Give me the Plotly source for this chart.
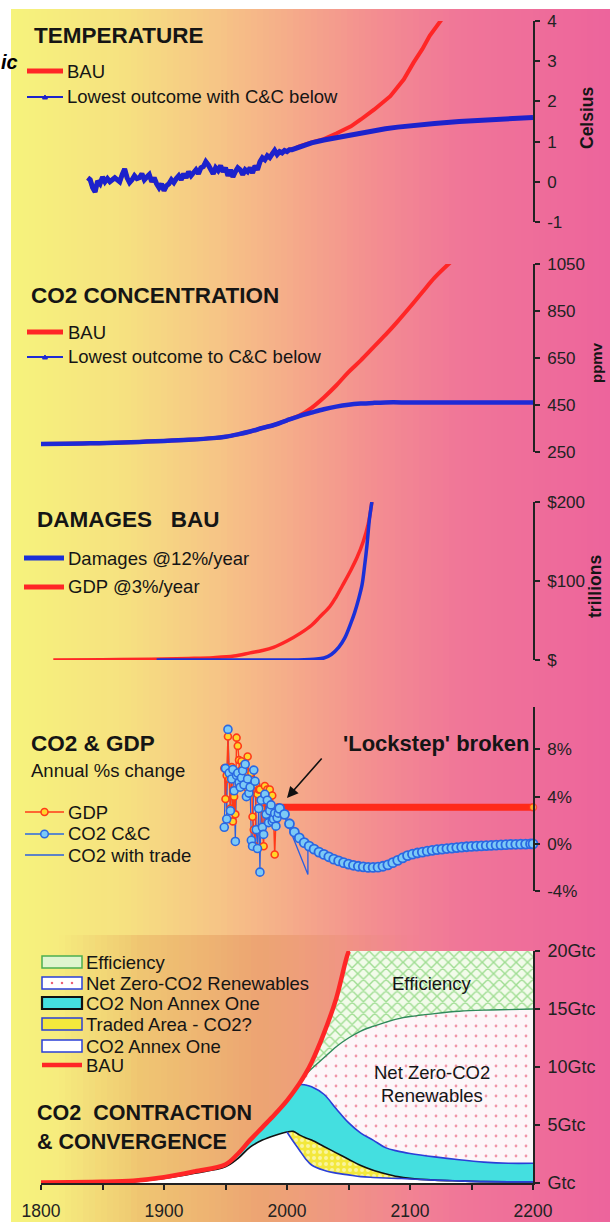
import plotly.graph_objects as go

W, H = 610, 1222
FONT = "Liberation Sans"

# ---------------- data ----------------
# Panel 1: temperature (Celsius)
temp_hist_years = [1838, 1840, 1842, 1844, 1846, 1848, 1850, 1852, 1854, 1856, 1858, 1860, 1862, 1864, 1866, 1868,
                   1870, 1872, 1874, 1876, 1878, 1880, 1882, 1884, 1886, 1888, 1890, 1892, 1894, 1896, 1898, 1900,
                   1902, 1904, 1906, 1908, 1910, 1912, 1914, 1916, 1918, 1920, 1922, 1924, 1926, 1928, 1930, 1932,
                   1934, 1936, 1938, 1940, 1942, 1944, 1946, 1948, 1950, 1952, 1954, 1956, 1958, 1960, 1962, 1964,
                   1966, 1968, 1970, 1972, 1974, 1976, 1978, 1980, 1982, 1984, 1986, 1988, 1990, 1992, 1994, 1996,
                   1998, 2000, 2002, 2004, 2006, 2008]
temp_hist = [0.10, 0.05, -0.15, -0.25, 0.02, -0.05, 0.12, 0.00, 0.08, 0.00, 0.05, 0.10, 0.05, 0.00, 0.18, 0.32,
             0.10, -0.02, 0.05, 0.15, 0.08, 0.10, 0.20, 0.05, 0.12, 0.18, 0.00, 0.10, -0.05, -0.15, -0.05, -0.22,
             -0.10, -0.05, 0.05, -0.02, 0.08, 0.15, 0.05, 0.20, 0.10, 0.25, 0.15, 0.22, 0.30, 0.20, 0.35, 0.38,
             0.50, 0.42, 0.30, 0.20, 0.35, 0.28, 0.40, 0.25, 0.35, 0.15, 0.30, 0.12, 0.25, 0.35, 0.30, 0.18,
             0.30, 0.25, 0.35, 0.22, 0.40, 0.30, 0.50, 0.60, 0.55, 0.65, 0.60, 0.72, 0.78, 0.68, 0.75, 0.72,
             0.78, 0.75, 0.80, 0.80, 0.82, 0.85]
temp_cc_years = [2012, 2020, 2030, 2040, 2050, 2060, 2070, 2080, 2090, 2100, 2120, 2140, 2160, 2180, 2200]
temp_cc = [0.90, 0.97, 1.04, 1.10, 1.16, 1.22, 1.27, 1.32, 1.36, 1.40, 1.45, 1.50, 1.54, 1.57, 1.60]
temp_bau_years = [2010, 2020, 2030, 2040, 2052, 2060, 2071, 2084, 2095, 2103, 2110, 2116, 2126]
temp_bau = [0.88, 0.98, 1.06, 1.20, 1.38, 1.55, 1.80, 2.13, 2.55, 2.97, 3.30, 3.63, 4.05]

# Panel 2: CO2 concentration (ppmv)
co2_years = [1800, 1820, 1840, 1860, 1880, 1900, 1920, 1940, 1950, 1960, 1970, 1980, 1990, 2000, 2010, 2020,
             2030, 2040, 2050, 2060, 2070, 2080, 2100, 2120, 2140, 2160, 2180, 2200]
co2_cc = [284, 285, 287, 289, 293, 297, 302, 309, 315, 325, 337, 352, 366, 385, 403, 418,
          432, 443, 451, 456, 459, 461, 461, 461, 461, 461, 461, 461]
co2_bau_years = [2010, 2020, 2030, 2040, 2050, 2060, 2070, 2080, 2090, 2100, 2110, 2120, 2133]
co2_bau = [405, 438, 482, 533, 590, 640, 694, 748, 806, 867, 930, 992, 1058]

# Panel 3: damages BAU (trillions $)
gdp_val_years = [1810, 1850, 1890, 1920, 1940, 1957, 1970, 1980, 1989, 2000, 2011, 2020, 2027, 2035, 2040, 2045,
                 2052, 2057, 2062, 2066, 2069]
gdp_val = [0, 0.3, 1, 2, 3, 5, 9, 12, 16, 24, 34, 44, 55, 68, 80, 94, 114, 130, 150, 172, 200]
dam_years = [1894, 1950, 2000, 2014, 2022, 2030, 2036, 2042, 2047, 2052, 2055, 2058, 2061, 2063, 2065, 2067, 2069]
dam_val = [0, 0, 0, 0.3, 1, 2.5, 7, 16, 28, 47, 60, 76, 95, 118, 145, 178, 200]

# Panel 4: CO2 & GDP annual % change
hist_years = [1949, 1950, 1951, 1952, 1953, 1954, 1955, 1956, 1957, 1958, 1959, 1960, 1961, 1962, 1963, 1964,
              1965, 1966, 1967, 1968, 1969, 1970, 1971, 1972, 1973, 1974, 1975, 1976, 1977, 1978, 1979, 1980,
              1981, 1982, 1983, 1984, 1985, 1986, 1987, 1988, 1989, 1990, 1991, 1992, 1993]
gdp_pct = [6.4, 3.8, 5.8, 9.1, 5.5, 3.0, 6.5, 1.9, 4.0, 2.5, 9.0, 8.3, 7.1, 6.2, 7.0, 6.6,
           5.4, 6.0, 4.8, 7.4, 6.0, 4.5, 6.0, 2.3, 1.2, -0.2, 5.0, 4.2, 4.6, 4.6, 3.0, 1.0,
           -0.2, 4.9, 3.6, 4.6, 3.5, 4.6, 3.3, 4.1, 2.5, -0.9, 2.0, 3.0, 3.1]
co2_pct_hist = [1.4, 6.4, 2.1, 9.7, 6.0, 2.8, 5.5, 6.3, 4.5, 0.2, 5.8, 6.0, 5.2, 4.8, 5.6, 6.2,
                5.0, 6.75, 4.0, 5.5, 4.3, 4.8, 0.3, -0.2, 6.25, 5.3, 1.2, -0.4, 3.0, -2.4, 3.7, 1.4,
                0.8, 4.2, 2.5, 3.7, 1.8, 2.8, 3.3, 1.9, 2.1, 2.6, 1.5, 2.2, 2.6]
gdp_proj_years = [1993, 2200]
gdp_proj = [3.1, 3.1]
cc_years = [1994, 1998, 2002, 2006, 2010, 2014, 2018, 2022, 2026, 2030, 2034, 2038, 2042, 2046, 2050, 2054,
            2058, 2062, 2066, 2070, 2074, 2078, 2082, 2086, 2090, 2094, 2098, 2102, 2106, 2110, 2114, 2118,
            2122, 2126, 2130, 2134, 2138, 2142, 2146, 2150, 2154, 2158, 2162, 2166, 2170, 2174, 2178, 2182,
            2186, 2190, 2194, 2198, 2200]
cc_pct = [3.0, 2.5, 1.7, 1.0, 0.5, 0.1, -0.2, -0.45, -0.7, -0.9, -1.1, -1.3, -1.45, -1.6, -1.72, -1.82,
          -1.9, -1.95, -2.0, -2.0, -1.98, -1.9, -1.78, -1.6, -1.4, -1.2, -1.0, -0.88, -0.78, -0.7, -0.62, -0.55,
          -0.5, -0.45, -0.4, -0.36, -0.32, -0.28, -0.25, -0.22, -0.19, -0.17, -0.15, -0.13, -0.11, -0.09, -0.07, -0.05,
          -0.04, -0.03, -0.02, -0.01, 0.0]
trade_years = [1994, 1997, 2017, 2017, 2030, 2050]
trade_pct = [3.0, 2.6, -2.6, 0.0, -0.9, -1.7]

# Panel 5: CO2 contraction & convergence (GtC)
p5_years = [1800, 1850, 1875, 1900, 1925, 1950, 1960, 1970, 1980, 1990, 2000, 2005, 2010, 2015, 2020, 2030,
            2040, 2050, 2060, 2070, 2080, 2090, 2100, 2120, 2140, 2160, 2180, 2200]
annex_one = [0.0, 0.05, 0.1, 0.4, 0.85, 1.4, 2.1, 3.1, 3.7, 4.1, 4.4, 3.6, 2.85, 2.1, 1.55, 1.1,
             0.85, 0.7, 0.55, 0.48, 0.43, 0.4, 0.35, 0.25, 0.18, 0.12, 0.1, 0.1]
traded_top = [0.0, 0.05, 0.1, 0.4, 0.85, 1.4, 2.1, 3.1, 3.7, 4.1, 4.4, 4.45, 4.15, 3.9, 3.7, 3.15,
              2.6, 2.05, 1.5, 1.1, 0.8, 0.55, 0.4, 0.25, 0.18, 0.12, 0.1, 0.1]
non_annex_top = [0.05, 0.1, 0.2, 0.5, 1.0, 1.6, 2.5, 3.7, 4.8, 5.9, 7.1, 7.8, 8.45, 8.45, 8.3, 7.65,
                 6.4, 5.2, 4.3, 3.7, 3.05, 2.75, 2.55, 2.25, 2.0, 1.8, 1.7, 1.7]
renew_top = [0.05, 0.1, 0.2, 0.5, 1.0, 1.6, 2.5, 3.7, 4.8, 5.9, 7.1, 7.8, 8.55, 9.3, 9.85, 10.8,
             11.75, 12.5, 13.1, 13.5, 13.85, 14.15, 14.35, 14.6, 14.8, 14.9, 14.95, 15.0]
effic_top = [0.05, 0.1, 0.2, 0.5, 1.0, 1.6, 2.5, 3.7, 4.8, 5.9, 7.1, 7.8, 8.55, 9.4, 10.4, 12.9,
             15.9, 19.9, 20, 20, 20, 20, 20, 20, 20, 20, 20, 20]
bau_years = [1800, 1850, 1875, 1900, 1925, 1950, 1960, 1970, 1980, 1990, 2000, 2005, 2010, 2015, 2020, 2030,
             2040, 2050, 2051]
bau_gtc = [0.05, 0.1, 0.2, 0.5, 1.0, 1.6, 2.5, 3.7, 4.8, 5.9, 7.1, 7.8, 8.55, 9.4, 10.4, 12.9, 15.9, 19.9, 20.0]

# tick labels
temp_ticks = [4, 3, 2, 1, 0, -1]
temp_ticktext = ["4", "3", "2", "1", "0", "-1"]
co2_ticks = [1050, 850, 650, 450, 250]
dam_ticks = [200, 100, 0]
dam_ticktext = ["$200", "$100", "$"]
pct_ticks = [8, 4, 0, -4]
pct_ticktext = ["8%", "4%", "0%", "-4%"]
gtc_ticks = [20, 15, 10, 5, 0]
gtc_ticktext = ["20Gtc", "15Gtc", "10Gtc", "5Gtc", "Gtc"]
year_ticks = [1800, 1900, 2000, 2100, 2200]

# ---------------- helpers ----------------
def px(x):
    return x / W

def py(y):
    return 1 - y / H

RED = "#ff2626"
BLUE = "#1c22cc"

fig = go.Figure()

# Panel 1
fig.add_trace(go.Scatter(x=temp_hist_years + temp_bau_years, y=temp_hist + temp_bau, mode="lines",
                         line=dict(color=RED, width=4), xaxis="x", yaxis="y", showlegend=False))
fig.add_trace(go.Scatter(x=temp_hist_years + temp_cc_years, y=temp_hist + temp_cc, mode="lines",
                         line=dict(color=BLUE, width=5), xaxis="x", yaxis="y", showlegend=False))
# Panel 2
fig.add_trace(go.Scatter(x=co2_years[:14] + co2_bau_years, y=co2_cc[:14] + co2_bau, mode="lines",
                         line=dict(color=RED, width=4, shape="spline"), xaxis="x", yaxis="y2", showlegend=False))
fig.add_trace(go.Scatter(x=co2_years, y=co2_cc, mode="lines",
                         line=dict(color="#1e2ad6", width=4.5, shape="spline"), xaxis="x", yaxis="y2", showlegend=False))
# Panel 3
fig.add_trace(go.Scatter(x=gdp_val_years, y=gdp_val, mode="lines",
                         line=dict(color=RED, width=3.5, shape="spline"), xaxis="x", yaxis="y3", showlegend=False))
fig.add_trace(go.Scatter(x=dam_years, y=dam_val, mode="lines",
                         line=dict(color="#1a30d8", width=3.5, shape="spline"), xaxis="x", yaxis="y3", showlegend=False))
# Panel 4
fig.add_trace(go.Scatter(x=gdp_proj_years, y=gdp_proj, mode="lines+markers",
                         line=dict(color="#ff2a1a", width=7),
                         marker=dict(size=[0, 7], color="#ffe030", line=dict(color="#ff3a1a", width=1.5)),
                         xaxis="x", yaxis="y4", showlegend=False, cliponaxis=False))
fig.add_trace(go.Scatter(x=hist_years, y=co2_pct_hist, mode="lines",
                         line=dict(color="#2a5fe0", width=1.2), xaxis="x", yaxis="y4", showlegend=False))
fig.add_trace(go.Scatter(x=trade_years, y=trade_pct, mode="lines",
                         line=dict(color="#2a5fe0", width=1.3), xaxis="x", yaxis="y4", showlegend=False))
fig.add_trace(go.Scatter(x=hist_years, y=gdp_pct, mode="lines+markers",
                         line=dict(color="#ff3a1a", width=1.4),
                         marker=dict(size=7, color="#ffd62a", line=dict(color="#ff3a1a", width=1.6)),
                         xaxis="x", yaxis="y4", showlegend=False, cliponaxis=False))
fig.add_trace(go.Scatter(x=hist_years, y=co2_pct_hist, mode="markers",
                         marker=dict(size=8, color="#7ccaf6", line=dict(color="#2a68e2", width=1.6)),
                         xaxis="x", yaxis="y4", showlegend=False, cliponaxis=False))
fig.add_trace(go.Scatter(x=cc_years, y=cc_pct, mode="lines+markers",
                         line=dict(color="#2a68e2", width=1.2),
                         marker=dict(size=9, color="#7ccaf6", line=dict(color="#2a68e2", width=1.8)),
                         xaxis="x", yaxis="y4", showlegend=False, cliponaxis=False))

# Panel 5 (stacked areas, each filled down to the previous curve)
fig.add_trace(go.Scatter(x=p5_years, y=annex_one, mode="lines", line=dict(width=0, shape="spline"),
                         fill="tozeroy", fillcolor="white", xaxis="x", yaxis="y5", showlegend=False))
fig.add_trace(go.Scatter(x=p5_years, y=traded_top, mode="lines", line=dict(width=0, shape="spline"),
                         fill="tonexty", fillcolor="#f3e83c",
                         fillpattern=dict(shape=".", bgcolor="#f3e83c", fgcolor="white", size=6, solidity=0.35),
                         xaxis="x", yaxis="y5", showlegend=False))
fig.add_trace(go.Scatter(x=p5_years, y=non_annex_top, mode="lines", line=dict(width=0, shape="spline"),
                         fill="tonexty", fillcolor="#44dfe0", xaxis="x", yaxis="y5", showlegend=False))
fig.add_trace(go.Scatter(x=p5_years, y=renew_top, mode="lines", line=dict(width=0, shape="spline"),
                         fill="tonexty", fillcolor="white",
                         fillpattern=dict(shape=".", bgcolor="#fdf6f9", fgcolor="#e3385a", size=10, solidity=0.06),
                         xaxis="x", yaxis="y5", showlegend=False))
fig.add_trace(go.Scatter(x=p5_years, y=effic_top, mode="lines", line=dict(width=0, shape="spline"),
                         fill="tonexty", fillcolor="#eafadf",
                         fillpattern=dict(shape="x", bgcolor="#f2fbea", fgcolor="#4cbf3a", size=8, solidity=0.32),
                         xaxis="x", yaxis="y5", showlegend=False))
# outlines
fig.add_trace(go.Scatter(x=p5_years[2:], y=traded_top[2:], mode="lines",
                         line=dict(color="#111111", width=1.6, shape="spline"), xaxis="x", yaxis="y5", showlegend=False))
fig.add_trace(go.Scatter(x=p5_years[10:], y=annex_one[10:], mode="lines",
                         line=dict(color="#2a3fd8", width=1.6, shape="spline"), xaxis="x", yaxis="y5", showlegend=False))
fig.add_trace(go.Scatter(x=p5_years[11:], y=non_annex_top[11:], mode="lines",
                         line=dict(color="#2a3fd8", width=1.6, shape="spline"), xaxis="x", yaxis="y5", showlegend=False))
fig.add_trace(go.Scatter(x=p5_years[12:], y=renew_top[12:], mode="lines",
                         line=dict(color="#2e8a5a", width=1.4, shape="spline"), xaxis="x", yaxis="y5", showlegend=False))
fig.add_trace(go.Scatter(x=bau_years, y=bau_gtc, mode="lines",
                         line=dict(color=RED, width=4.5, shape="spline"), xaxis="x", yaxis="y5", showlegend=False))

# ---------------- axes ----------------
X0, X1 = 41, 533

def yax(top, bottom, rng, tickvals, ticktext, size=17):
    return dict(domain=[py(bottom), py(top)], range=rng, side="right", anchor="x", automargin=False,
                showline=True, linecolor="#222222", linewidth=1.6, ticks="outside", ticklen=5,
                tickwidth=1.6, tickcolor="#222222", showgrid=False, zeroline=False,
                tickvals=tickvals, ticktext=ticktext, ticklabelstandoff=4,
                tickfont=dict(family=FONT, size=size, color="#222222"), fixedrange=True)

layout = dict(
    width=W, height=H, margin=dict(l=0, r=0, t=0, b=0, pad=0, autoexpand=False),
    paper_bgcolor="white", plot_bgcolor="rgba(0,0,0,0)", showlegend=False,
    xaxis=dict(domain=[px(X0), px(X1)], range=[1800, 2200], anchor="y5", showline=True, automargin=False,
               linecolor="#222222", linewidth=1.6, ticks="outside", ticklen=5, tickwidth=1.6,
               tickcolor="#222222", tickvals=year_ticks, ticktext=[str(v) for v in year_ticks],
               minor=dict(dtick=50, tick0=1800, ticks="outside", ticklen=5, tickwidth=1.6, tickcolor="#222222"),
               showgrid=False, zeroline=False, ticklabelstandoff=6, fixedrange=True,
               tickfont=dict(family=FONT, size=17.5, color="#222222")),
    yaxis=yax(21, 222, [-1, 4], temp_ticks, temp_ticktext),
    yaxis2=yax(264, 452, [250, 1050], co2_ticks, [str(v) for v in co2_ticks]),
    yaxis3=yax(502, 660, [0, 200], dam_ticks, dam_ticktext),
    yaxis4=yax(707, 891, [-4, 11.6], pct_ticks, pct_ticktext),
    yaxis5=yax(951, 1183, [0, 20], gtc_ticks, gtc_ticktext, size=18),
)

# ---------------- background gradient ----------------
stops = [(11, (246, 243, 124)), (120, (246, 226, 128)), (220, (246, 196, 134)), (300, (245, 168, 138)),
         (380, (243, 140, 145)), (460, (240, 118, 152)), (610, (237, 100, 156))]
# darker orange tint behind the bottom chart
tint_stops = [(60, 0.0), (140, 0.22), (260, 0.28), (360, 0.08), (420, 0.0)]

def interp(stops_, x):
    for (xa, ca), (xb, cb) in zip(stops_[:-1], stops_[1:]):
        if xa <= x <= xb:
            t = (x - xa) / (xb - xa)
            if isinstance(ca, tuple):
                return tuple(ca[i] + (cb[i] - ca[i]) * t for i in range(3))
            return ca + (cb - ca) * t
    last = stops_[-1][1] if x > stops_[-1][0] else stops_[0][1]
    return last

shapes = []
step = 6
for x0 in range(11, 610, step):
    x1 = min(x0 + step + 0.5, 610)
    c = interp(stops, x0 + step / 2)
    shapes.append(dict(type="rect", xref="paper", yref="paper", x0=px(x0), x1=px(x1), y0=0, y1=py(9),
                       fillcolor="rgb(%d,%d,%d)" % tuple(round(v) for v in c), line=dict(width=0), layer="below"))
    a = interp(tint_stops, x0 + step / 2)
    if a > 0.005:
        shapes.append(dict(type="rect", xref="paper", yref="paper", x0=px(x0), x1=px(x1), y0=0, y1=py(935),
                           fillcolor="rgba(214,120,60,%.3f)" % a, line=dict(width=0), layer="below"))

def hline(x0, x1, y, color, width):
    shapes.append(dict(type="line", xref="paper", yref="paper", x0=px(x0), x1=px(x1), y0=py(y), y1=py(y),
                       line=dict(color=color, width=width)))

def box(x0, x1, y0, y1, fill, edge, width=1.5):
    shapes.append(dict(type="rect", xref="paper", yref="paper", x0=px(x0), x1=px(x1), y0=py(y1), y1=py(y0),
                       fillcolor=fill, line=dict(color=edge, width=width)))

def dot(cx, cy, r, fill, edge, width=1.5):
    shapes.append(dict(type="circle", xref="paper", yref="paper", x0=px(cx - r), x1=px(cx + r),
                       y0=py(cy + r), y1=py(cy - r), fillcolor=fill, line=dict(color=edge, width=width)))

# legend swatches
hline(27, 63, 71, RED, 5)
hline(27, 63, 97, BLUE, 2)
shapes.append(dict(type="path", xref="paper", yref="paper",
                   path="M %f %f L %f %f L %f %f Z" % (px(42.5), py(99), px(47.5), py(99), px(45), py(95)),
                   fillcolor=BLUE, line=dict(color=BLUE, width=1)))
hline(27, 63, 332, RED, 5)
hline(27, 63, 357, "#1e2ad6", 2)
shapes.append(dict(type="path", xref="paper", yref="paper",
                   path="M %f %f L %f %f L %f %f Z" % (px(42.5), py(359), px(47.5), py(359), px(45), py(355)),
                   fillcolor="#1e2ad6", line=dict(color="#1e2ad6", width=1)))
hline(24, 64, 558, "#1a30d8", 5)
hline(24, 64, 587, RED, 5)
hline(25, 64, 812, "#ff3a1a", 1.5)
dot(44.5, 812, 3.5, "#ffd62a", "#ff3a1a")
hline(25, 64, 834, "#2a68e2", 1.5)
dot(44.5, 834, 3.8, "#7ccaf6", "#2a68e2")
hline(25, 64, 855, "#2a5fe0", 1.5)
box(42, 82, 956, 968, "#dff5cf", "#4caf50")
box(42, 82, 977, 989, "white", "#2a3fd8")
for cx in (52, 62, 72):
    dot(cx, 983, 0.9, "#e8405a", "#e8405a", 0.5)
box(42, 82, 997, 1009, "#44dfe0", "#111111", 2.2)
box(42, 82, 1018, 1030, "#f3e83c", "#2a3fd8")
box(42, 82, 1040, 1052, "white", "#2a3fd8")
hline(42, 82, 1065, RED, 4.5)

layout["shapes"] = shapes

# ---------------- texts ----------------
ann = []

def txt(x, y, s, size=18.5, bold=False, anchor="left", angle=0, color="#151515", italic=False):
    f = dict(family=FONT, size=size, color=color)
    if bold:
        f["weight"] = "bold"
    if italic:
        f["style"] = "italic"
    ann.append(dict(x=px(x), y=py(y), xref="paper", yref="paper", text=s, showarrow=False,
                    xanchor=anchor, yanchor="middle", font=f, textangle=angle, borderpad=0))

txt(0, 62, "ic", size=20, bold=True, anchor="left", italic=True, color="#000000")
txt(33, 35, "TEMPERATURE", size=22.5, bold=True)
txt(66, 71, "BAU")
txt(66, 97, "Lowest outcome with C&C below")
txt(30, 295, "CO2 CONCENTRATION", size=22.5, bold=True)
txt(67, 332, "BAU")
txt(67, 357, "Lowest outcome to C&C below")
txt(36, 520, "DAMAGES\u00a0\u00a0\u00a0BAU", size=22.5, bold=True)
txt(67, 558, "Damages @12%/year")
txt(67, 587, "GDP @3%/year")
txt(30, 743, "CO2 & GDP", size=22.5, bold=True)
txt(30, 770, "Annual %s change")
txt(342, 743, "'Lockstep' broken", size=22, bold=True)
txt(67, 812, "GDP")
txt(67, 834, "CO2 C&C")
txt(67, 855, "CO2 with trade")
txt(85, 962, "Efficiency")
txt(85, 983, "Net Zero-CO2 Renewables")
txt(85, 1003, "CO2 Non Annex One")
txt(85, 1024, "Traded Area - CO2?")
txt(85, 1046, "CO2 Annex One")
txt(85, 1065, "BAU")
txt(36, 1113, "CO2\u00a0\u00a0CONTRACTION", size=21.5, bold=True)
txt(36, 1142, "&amp; CONVERGENCE", size=21.5, bold=True)
txt(432, 983, "Efficiency", anchor="center")
txt(432, 1072, "Net Zero-CO2", anchor="center")
txt(432, 1095, "Renewables", anchor="center")
# axis titles
txt(587, 118, "Celsius", size=17.5, bold=True, anchor="center", angle=-90)
txt(597, 363, "ppmv", size=15, bold=True, anchor="center", angle=-90)
txt(595, 587, "trillions", size=17.5, bold=True, anchor="center", angle=-90)

# arrow
ann.append(dict(x=px(287), y=py(798), xref="paper", yref="paper", ax=36, ay=-41, text="",
                showarrow=True, arrowhead=2, arrowsize=1.4, arrowwidth=1.6, arrowcolor="#111111"))

layout["annotations"] = ann
fig.update_layout(**layout)
fig.write_html("out.html", config={"displayModeBar": False},
               post_script="document.body.style.margin='0px'; document.body.style.overflow='hidden';")
